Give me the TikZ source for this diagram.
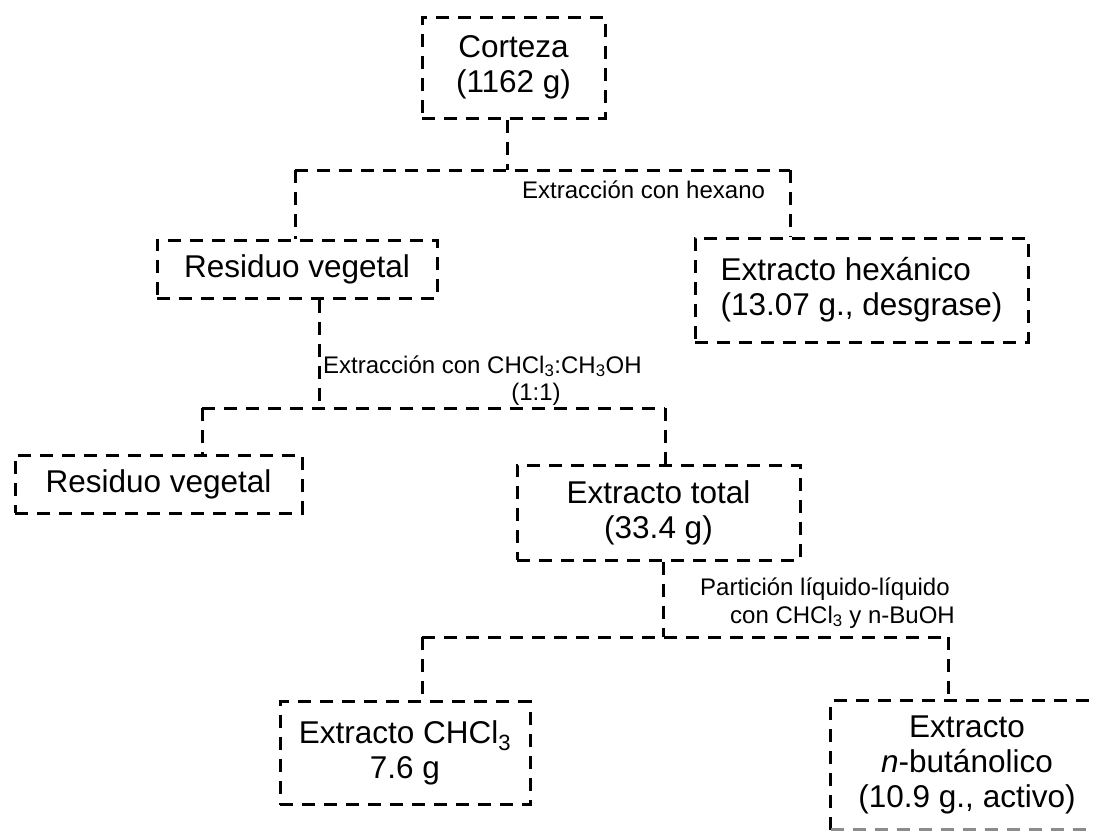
\documentclass[tikz,border=0pt]{standalone}
\usepackage{fontspec}
\setmainfont{Liberation Sans}
\tikzset{
  box/.style={draw, line width=3pt, dash pattern=on 13pt off 9pt, rectangle, inner sep=0pt, align=center, font=\fontsize{31.5}{35}\selectfont},
  link/.style={draw, line width=3pt, dash pattern=on 13pt off 9pt},
  faint/.style={draw=black!45, line width=2.4pt, dash pattern=on 13pt off 9pt},
  lab/.style={inner sep=0pt, font=\fontsize{24}{28}\selectfont}
}
\begin{document}
\begin{tikzpicture}[x=1pt, y=-1pt]
\useasboundingbox (0,0) rectangle (1093,838);
% boxes
\node[box, minimum width=183pt, minimum height=101pt] (corteza) at (513.5,67.5) {Corteza\\(1162 g)};
\node[box, minimum width=280pt, minimum height=58pt] (res1) at (297,269) {Residuo vegetal};
\node[box, minimum width=333pt, minimum height=104pt, align=left] (hex) at (861.5,290) {Extracto hexánico\\(13.07 g., desgrase)};
\node[box, minimum width=287pt, minimum height=58pt] (res2) at (158.5,484) {Residuo vegetal};
\node[box, minimum width=283pt, minimum height=95pt] (total) at (658.5,512.5) {Extracto total\\(33.4 g)};
\node[box, minimum width=250pt, minimum height=103pt] (chcl) at (405,753) {Extracto CHCl\textsubscript{3}\\7.6 g};
\node[box, draw=none, minimum width=270pt, minimum height=126pt] (buoh) at (967,765) {Extracto\\\textit{n}-butánolico\\(10.9 g., activo)};
\draw[link] (buoh.south west) -- (buoh.north west) -- (buoh.north east);
\draw[faint] (buoh.south west) -- (buoh.south east);
% labels
\node[lab, anchor=base west] (l1) at (522,198) {Extracción con hexano};
\node[lab, anchor=base west] (l2) at (323,373) {Extracción con CHCl\textsubscript{3}:CH\textsubscript{3}OH};
\node[lab, anchor=base] (l2b) at (536,400) {(1:1)};
\node[lab, anchor=base west] (l3) at (700,595) {Partición líquido-líquido};
\node[lab, anchor=base east] (l3b) at (955,623) {con CHCl\textsubscript{3} y n-BuOH};
% junctions
\coordinate (j1) at (507,170); \coordinate (j1l) at (295,170); \coordinate (j1r) at (790,170);
\coordinate (j2) at (319,408); \coordinate (j2l) at (202,408); \coordinate (j2r) at (665,408);
\coordinate (j3) at (663,637); \coordinate (j3l) at (422,637); \coordinate (j3r) at (948,637);
% connectors
\draw[link] (corteza.south -| j1) -- (j1);
\draw[link] (j1l) -- (j1r);
\draw[link] (j1l) -- (j1l |- res1.north);
\draw[link] (j1r) -- (j1r |- hex.north);
\draw[link] (res1.south -| j2) -- (j2);
\draw[link] (j2l) -- (j2r);
\draw[link] (j2l) -- (j2l |- res2.north);
\draw[link] (j2r) -- (j2r |- total.north);
\draw[link] (total.south -| j3) -- (j3);
\draw[link] (j3l) -- (j3r);
\draw[link] (j3l) -- (j3l |- chcl.north);
\draw[link] (j3r) -- (j3r |- buoh.north);
\end{tikzpicture}
\end{document}
